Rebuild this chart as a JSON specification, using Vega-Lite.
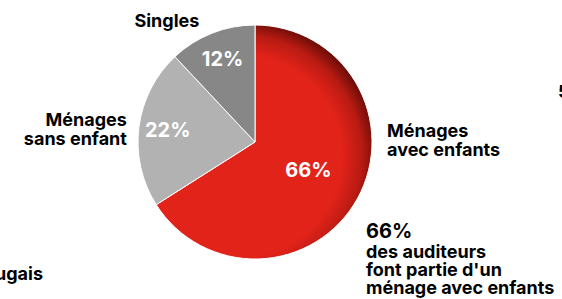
{
  "$schema": "https://vega.github.io/schema/vega-lite/v6.json",
  "width": 234,
  "height": 234,
  "autosize": "none",
  "padding": {"left": 138, "top": 25, "right": 190, "bottom": 40},
  "background": "white",
  "view": {"stroke": null},
  "config": {"text": {"font": "Inter", "fontWeight": "bold"}},
  "data": {
    "values": [
      {"category": "Ménages avec enfants", "value": 66, "order": 1, "pct": "66%"},
      {"category": "Ménages sans enfant", "value": 22, "order": 2, "pct": "22%"},
      {"category": "Singles", "value": 12, "order": 3, "pct": "12%"}
    ]
  },
  "encoding": {
    "theta": {"field": "value", "type": "quantitative", "stack": true},
    "order": {"field": "order", "type": "quantitative"}
  },
  "layer": [
    {
      "mark": {"type": "arc", "radius": 117, "stroke": "white", "strokeWidth": 1},
      "encoding": {
        "color": {
          "condition": {
            "test": "datum.category === 'Ménages avec enfants'",
            "value": {
              "gradient": "radial",
              "x1": 0.4, "y1": 0.56, "x2": 0.4, "y2": 0.56,
              "r1": 0, "r2": 0.6,
              "stops": [
                {"offset": 0, "color": "#E2231A"},
                {"offset": 0.72, "color": "#E2231A"},
                {"offset": 0.86, "color": "#BA1B12"},
                {"offset": 1, "color": "#560A05"}
              ]
            }
          },
          "field": "category",
          "type": "nominal",
          "scale": {"domain": ["Ménages avec enfants", "Ménages sans enfant", "Singles"], "range": ["#E2231A", "#B2B2B2", "#878787"]},
          "legend": null
        }
      }
    },
    {
      "mark": {"type": "text", "radius": 88, "fontSize": 20, "color": "white", "baseline": "middle", "align": "center"},
      "encoding": {
        "text": {"condition": {"test": "datum.category !== 'Ménages avec enfants'", "field": "pct"}, "value": ""}
      }
    },
    {
      "mark": {"type": "text", "radius": 61, "fontSize": 20, "color": "white", "baseline": "middle", "align": "center"},
      "encoding": {
        "text": {"condition": {"test": "datum.category === 'Ménages avec enfants'", "field": "pct"}, "value": ""}
      }
    },
    {
      "mark": {"type": "text", "radius": 117, "fontSize": 18, "color": "black", "align": "center", "baseline": "alphabetic", "dx": -45, "dy": -6},
      "encoding": {
        "text": {"condition": {"test": "datum.category === 'Singles'", "value": "Singles"}, "value": ""}
      }
    },
    {
      "mark": {"type": "text", "radius": 117, "fontSize": 18, "color": "black", "align": "right", "baseline": "alphabetic", "dx": -12, "dy": -1, "lineBreak": "\n", "lineHeight": 18.5},
      "encoding": {
        "text": {"condition": {"test": "datum.category === 'Ménages sans enfant'", "value": "Ménages\nsans enfant"}, "value": ""}
      }
    },
    {
      "mark": {"type": "text", "radius": 117, "fontSize": 18, "color": "black", "align": "left", "baseline": "alphabetic", "dx": 29.5, "dy": -61, "lineBreak": "\n", "lineHeight": 19},
      "encoding": {
        "text": {"condition": {"test": "datum.category === 'Ménages avec enfants'", "value": "Ménages\navec enfants"}, "value": ""}
      }
    },
    {
      "mark": {"type": "text", "radius": 117, "fontSize": 20, "color": "black", "align": "left", "baseline": "alphabetic", "dx": 8.5, "dy": 39.6},
      "encoding": {
        "text": {"condition": {"test": "datum.category === 'Ménages avec enfants'", "field": "pct"}, "value": ""}
      }
    },
    {
      "mark": {"type": "text", "radius": 117, "fontSize": 18, "color": "black", "align": "left", "baseline": "alphabetic", "dx": 8.5, "dy": 59.6, "lineBreak": "\n", "lineHeight": 18},
      "encoding": {
        "text": {"condition": {"test": "datum.category === 'Ménages avec enfants'", "value": "des auditeurs\nfont partie d'un\nménage avec enfants"}, "value": ""}
      }
    },
    {
      "mark": {"type": "text", "radius": 117, "fontSize": 18, "color": "black", "align": "right", "baseline": "alphabetic", "dx": -314.5, "dy": 81.6},
      "encoding": {
        "text": {"condition": {"test": "datum.category === 'Ménages avec enfants'", "value": "Portugais"}, "value": ""}
      }
    },
    {
      "mark": {"type": "text", "radius": 117, "fontSize": 18, "color": "black", "align": "left", "baseline": "alphabetic", "dx": 200.5, "dy": -100.4},
      "encoding": {
        "text": {"condition": {"test": "datum.category === 'Ménages avec enfants'", "value": "5"}, "value": ""}
      }
    }
  ]
}
